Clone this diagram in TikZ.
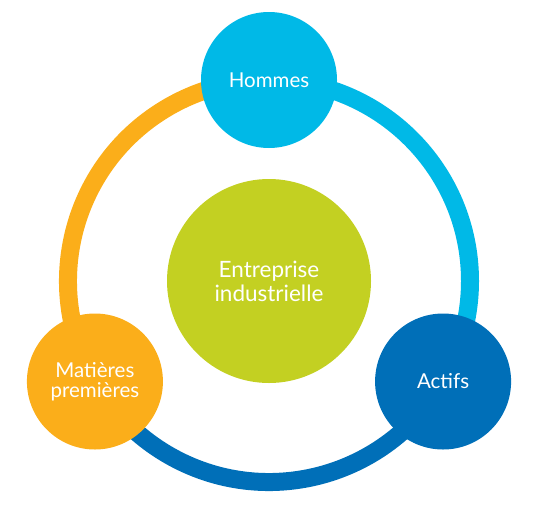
\documentclass[tikz,border=0pt]{standalone}
\usepackage{fontspec}
\setmainfont{Lato}
\usepackage{tikz}
\usetikzlibrary{calc}
\definecolor{hommesblue}{HTML}{00B9E7}
\definecolor{actifsblue}{HTML}{006FB8}
\definecolor{matorange}{HTML}{FBAE1A}
\definecolor{entgreen}{HTML}{C3D022}

\begin{document}
\begin{tikzpicture}[x=1pt,y=-1pt,
  bubble/.style={circle,minimum size=136pt,inner sep=0pt,text=white,align=center,
    font=\fontsize{20.5}{20}\selectfont},
  ring/.style={line width=18pt}]
\useasboundingbox (0,0) rectangle (534,506);
\coordinate (c) at (269,281);
\coordinate (ph) at ($(c)+(270:201)$);
\coordinate (pa) at ($(c)+(30:201)$);
\coordinate (pm) at ($(c)+(150:201)$);
% ring
\draw[ring,matorange] (pm) arc (150:270:201);
\draw[ring,hommesblue] (ph) arc (270:390:201);
\draw[ring,actifsblue] (pa) arc (30:150:201);
% circles
\node[circle,minimum size=204pt,inner sep=0pt,fill=entgreen,text=white,align=center,
  font=\fontsize{22.5}{24}\selectfont] (entreprise) at (c) {Entreprise\\industrielle};
\node[bubble,fill=hommesblue] (hommes) at (ph) {Hommes};
\node[bubble,fill=actifsblue] (actifs) at (pa) {Actifs};
\node[bubble,fill=matorange] (matieres) at (pm) {Matières\\premières};
\end{tikzpicture}
\end{document}
